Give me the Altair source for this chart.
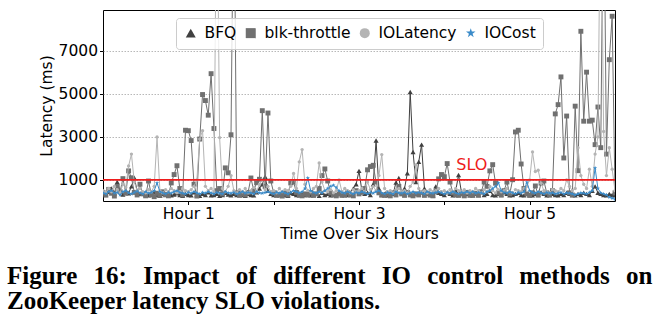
import altair as alt
import pandas as pd

# ---- data (sampled every 2 minutes over six hours) ----
minutes = list(range(0, 362, 2))

bfq = [
    350, 300, 450, 600, 380, 900, 500, 320, 420, 380,
    700, 1100, 500, 350, 400, 300, 280, 350, 420, 300,
    260, 350, 300, 420, 280, 320, 380, 300, 260, 350,
    300, 280, 420, 300, 260, 350, 300, 420, 280, 300,
    350, 260, 300, 400, 320, 280, 350, 300, 420, 300,
    260, 350, 300, 280, 420, 600, 800, 1150, 500, 350,
    300, 420, 280, 350, 300, 260, 400, 350, 300, 280,
    350, 300, 420, 280, 300, 350, 260, 400, 300, 350,
    280, 320, 300, 420, 350, 280, 300, 400, 600, 800,
    1420, 500, 350, 400, 300, 800, 2830, 600, 300, 350,
    280, 400, 350, 880, 1090, 400, 600, 1310, 5090, 2300,
    900, 1840, 2640, 600, 350, 300, 280, 700, 400, 350,
    300, 420, 350, 280, 500, 1230, 450, 300, 350, 280,
    300, 350, 280, 420, 300, 350, 500, 300, 280, 350,
    300, 420, 350, 280, 300, 350, 400, 300, 280, 350,
    300, 280, 350, 300, 420, 350, 280, 300, 350, 300,
    280, 350, 300, 400, 350, 300, 280, 350, 300, 400,
    350, 300, 500, 700, 400, 350, 300, 280, 350, 300,
    280,
]

blk = [
    420, 300, 560, 380, 250, 700, 450, 1060, 380, 1420,
    1100, 420, 300, 800, 350, 260, 950, 300, 220, 380,
    280, 450, 320, 260, 860, 1250, 1660, 600, 300, 3310,
    3290, 2830, 800, 250, 2900, 4970, 4690, 4010, 5940, 3390,
    500, 600, 350, 1560, 1330, 3100, 16000, 400, 280, 350,
    300, 420, 1090, 500, 870, 1030, 4220, 700, 4110, 950,
    400, 280, 320, 250, 380, 300, 860, 900, 420, 300,
    260, 350, 300, 420, 280, 350, 600, 1200, 1510, 950,
    400, 300, 260, 350, 280, 320, 400, 300, 260, 500,
    350, 420, 600, 1470, 1620, 1680, 900, 400, 300, 280,
    350, 260, 400, 300, 700, 350, 280, 420, 300, 260,
    350, 300, 420, 280, 380, 300, 260, 450, 1050, 1250,
    1150, 1760, 900, 400, 300, 280, 350, 260, 420, 300,
    280, 380, 300, 450, 900, 700, 1420, 1710, 850, 400,
    300, 500, 900, 350, 1010, 3230, 3310, 1740, 600, 350,
    280, 400, 720, 300, 850, 950, 400, 300, 500, 4070,
    4500, 5790, 2020, 3970, 400, 300, 4430, 1430, 7910, 3730,
    6010, 3730, 3780, 2640, 4390, 2500, 16000, 2200, 6590, 8610,
    400,
]

iolatency = [
    500, 400, 600, 450, 700, 550, 400, 800, 650, 1650,
    2200, 900, 500, 600, 450, 400, 550, 450, 700, 3000,
    500, 400, 550, 450, 600, 500, 400, 450, 600, 500,
    450, 550, 700, 1000, 2900, 3290, 700, 500, 600, 450,
    16000, 2970, 600, 450, 700, 1200, 500, 400, 550, 450,
    600, 400, 500, 650, 450, 800, 1000, 550, 700, 450,
    500, 400, 600, 450, 550, 500, 700, 1300, 600, 1840,
    2410, 800, 500, 450, 600, 700, 1790, 900, 500, 450,
    550, 400, 500, 1000, 450, 600, 500, 400, 550, 450,
    500, 600, 450, 900, 550, 700, 500, 1200, 2180, 600,
    450, 500, 400, 550, 600, 450, 500, 400, 700, 900,
    1700, 600, 450, 500, 400, 550, 450, 500, 600, 450,
    500, 400, 550, 450, 600, 500, 450, 550, 400, 500,
    450, 600, 500, 400, 550, 450, 700, 500, 400, 550,
    450, 500, 600, 450, 400, 550, 500, 450, 600, 700,
    1000, 2300, 1390, 1450, 850, 500, 450, 400, 550, 500,
    450, 600, 500, 1000, 700, 500, 600, 2500, 1200, 800,
    600, 1500, 700, 2200, 3000, 16000, 3250, 1200, 2500, 1500,
    500,
]

iocost = [
    400, 350, 450, 500, 380, 420, 300, 450, 500, 400,
    350, 420, 480, 400, 350, 450, 380, 420, 500, 860,
    450, 400, 350, 420, 380, 450, 500, 420, 380, 350,
    420, 380, 450, 400, 350, 420, 380, 450, 400, 350,
    420, 380, 350, 450, 400, 380, 420, 350, 400, 450,
    380, 420, 400, 350, 450, 400, 380, 420, 450, 400,
    350, 420, 380, 450, 400, 350, 420, 500, 450, 400,
    450, 600, 1090, 500, 420, 380, 450, 400, 500, 600,
    700, 750, 650, 500, 420, 380, 450, 400, 350, 420,
    380, 450, 400, 350, 420, 380, 450, 500, 400, 350,
    420, 380, 350, 450, 400, 380, 420, 350, 400, 450,
    380, 420, 400, 350, 450, 400, 380, 420, 450, 400,
    350, 420, 380, 450, 400, 350, 420, 400, 450, 400,
    450, 380, 420, 400, 350, 450, 500, 600, 700, 860,
    500, 420, 380, 450, 400, 350, 420, 380, 450, 900,
    500, 420, 380, 450, 400, 350, 420, 380, 400, 350,
    380, 420, 350, 400, 380, 350, 300, 350, 400, 380,
    350, 420, 500, 1560, 600, 400, 350, 300, 200, 150,
    100,
]

series_names = ["BFQ", "blk-throttle", "IOLatency", "IOCost"]
series_values = [bfq, blk, iolatency, iocost]
colors = ["#404040", "#707070", "#b4b4b4", "#3b8bc9"]
star = ("M0,-1L0.2245,-0.309L0.951,-0.309L0.363,0.118L0.588,0.809L0,0.382"
        "L-0.588,0.809L-0.363,0.118L-0.951,-0.309L-0.2245,-0.309Z")
shapes = ["triangle-up", "square", "circle", star]
marker_sizes = [26, 24, 11, 20]

y_ticks = [1000, 3000, 5000, 7000]
x_ticks = [1, 2, 3, 4, 5]
slo_value = 1000
slo_label = "SLO"
slo_label_pos = [4.14, 1700]   # (hour, latency)

caption_line1 = ["Figure", "16:", "Impact", "of", "different", "IO", "control", "methods", "on"]
caption_line2 = "ZooKeeper latency SLO violations."
# justified first line: widen the word gaps with thin spaces
caption = [(" \u2009\u2009").join(caption_line1), caption_line2]

# ---- build table ----
rows = []
for name, vals in zip(series_names, series_values):
    for m, v in zip(minutes, vals):
        rows.append({"series": name, "hour": m / 60.0, "latency": v})
df = pd.DataFrame(rows)

FONT = "DejaVu Sans"
FS = 15.5

x_enc = alt.X(
    "hour:Q",
    scale=alt.Scale(domain=[0, 6], nice=False, zero=False),
    axis=alt.Axis(
        values=x_ticks,
        labelExpr="datum.value % 2 == 1 ? 'Hour ' + datum.value : ''",
        grid=False,
        title="Time Over Six Hours",
    ),
)
y_enc = alt.Y(
    "latency:Q",
    scale=alt.Scale(domain=[20, 8900], nice=False, zero=False),
    axis=alt.Axis(
        values=y_ticks,
        format="d",
        grid=True,
        gridDash=[1.5, 1.5],
        gridColor="#b8b8b8",
        gridWidth=1,
        title="Latency (ms)",
    ),
)
color_scale = alt.Scale(domain=series_names, range=colors)
shape_scale = alt.Scale(domain=series_names, range=shapes)

legend = alt.Legend(
    title=None,
    orient="none",
    legendX=73,
    legendY=8,
    direction="horizontal",
    columns=4,
    symbolSize=100,
    symbolStrokeWidth=0,
    labelFont=FONT,
    labelFontSize=FS,
    labelColor="black",
    labelOffset=6,
    columnPadding=6,
    padding=7,
    strokeColor="#cccccc",
    fillColor="rgba(255,255,255,0.8)",
    cornerRadius=3,
)

base = alt.Chart(df)
layers = []
for name, col, size in zip(series_names, colors, marker_sizes):
    sub = base.transform_filter(alt.datum.series == name)
    line = sub.mark_line(strokeWidth=1.0, clip=True, color=col).encode(
        x=x_enc, y=y_enc,
    )
    pts = sub.mark_point(filled=True, opacity=1, size=size, clip=True).encode(
        x=x_enc, y=y_enc,
        color=alt.Color("series:N", scale=color_scale, legend=legend),
        shape=alt.Shape("series:N", scale=shape_scale, legend=legend),
    )
    layers += [line, pts]

rule = alt.Chart(pd.DataFrame({"slo": [slo_value]})).mark_rule(
    color="#ee1c1c", strokeWidth=1.8
).encode(y=alt.Y("slo:Q"))

label = alt.Chart(
    pd.DataFrame({"t": [slo_label], "h": [slo_label_pos[0]], "v": [slo_label_pos[1]]})
).mark_text(
    align="left", baseline="middle", color="#ee1c1c", font=FONT, fontSize=16
).encode(x="h:Q", y="v:Q", text="t:N")

chart = alt.layer(*layers, rule, label).properties(
    width=512,
    height=191,
    padding={"left": 103, "top": 10, "right": 56, "bottom": 120},
    autosize=alt.AutoSizeParams(type="none"),
    title=alt.Title(
        text=caption,
        orient="bottom",
        anchor="start",
        frame="group",
        font="Liberation Serif",
        fontSize=25,
        fontWeight="bold",
        color="black",
        lineHeight=25,
        dx=-96,
        offset=22,
    ),
).configure_view(
    stroke="black", strokeWidth=1
).configure_axis(
    domain=False,
    labelFont=FONT,
    labelFontSize=FS,
    labelColor="black",
    titleFont=FONT,
    titleFontSize=FS,
    titleFontWeight="normal",
    titleColor="black",
    tickColor="black",
    tickSize=3.5,
    labelPadding=2,
    titlePadding=4,
)

chart.save("out.html", embed_options={"renderer": "svg", "actions": False})
